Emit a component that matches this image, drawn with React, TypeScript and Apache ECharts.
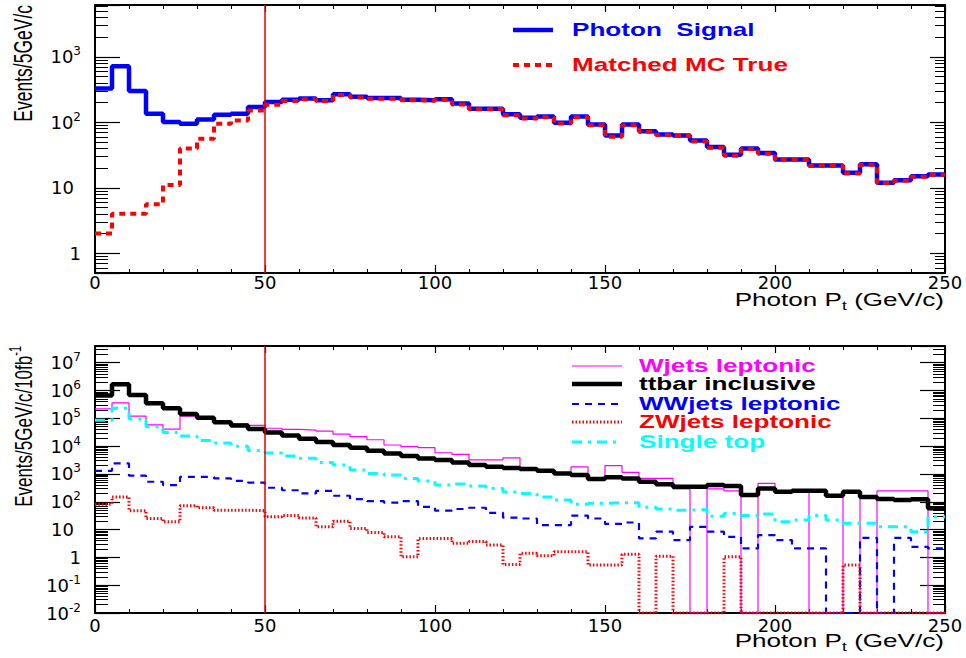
import React, { useEffect, useRef } from "react";
import * as echarts from "echarts";

// ---- data (5 GeV/c bins, low edges) ----
const binLowEdges = [
  0, 5, 10, 15, 20, 25, 30, 35, 40, 45, 50, 55, 60, 65, 70, 75, 80, 85, 90, 95,
  100, 105, 110, 115, 120, 125, 130, 135, 140, 145, 150, 155, 160, 165, 170, 175, 180, 185, 190, 195,
  200, 205, 210, 215, 220, 225, 230, 235, 240, 245,
];
const ptMax = 250;
const cutPt = 50;
const xTickLabels = [0, 50, 100, 150, 200, 250];

// top panel
const photonSignal = [
  330, 720, 300, 135, 101, 95, 111, 131, 135, 171,
  204, 222, 232, 218, 268, 245, 235, 235, 222, 218,
  225, 194, 162, 162, 133, 118, 123, 99, 123, 93,
  63, 93, 73, 65, 63, 53, 42, 32, 40, 34,
  27, 27, 22, 22, 17, 23, 12, 13, 15, 16,
];
const matchedMCTrue = [
  2, 4, 4, 5.6, 11, 40, 56, 95, 107, 152,
  185, 212, 225, 212, 262, 240, 230, 230, 218, 214,
  222, 188, 158, 160, 128, 115, 120, 96, 120, 90,
  60, 90, 72, 64, 62, 51, 41, 31, 39, 33,
  26.5, 26.5, 21.5, 21.5, 16.5, 22.5, 11.8, 12.8, 14.8, 15.8,
];

// bottom panel (events / 5 GeV/c / 10 fb^-1), 0 = empty bin
const wjetsLeptonic = [
  2.2e5, 3.6e5, 1.2e5, 5.8e4, 4.1e4, 1.2e5, 1.0e5, 8.0e4, 6.4e4, 5.6e4,
  4.4e4, 4.0e4, 3.8e4, 3.5e4, 2.7e4, 2.2e4, 1.7e4, 1.1e4, 9.6e3, 8.8e3,
  5.8e3, 5.1e3, 3.2e3, 3.2e3, 3.8e3, 1.45e3, 1.25e3, 1.0e3, 1.8e3, 640,
  2.0e3, 1.15e3, 690, 690, 290, 0, 290, 245, 0, 460,
  245, 245, 0, 0, 220, 0, 245, 245, 245, 0,
];
const ttbarInclusive = [
  6.6e5, 1.7e6, 6.9e5, 3.5e5, 2.3e5, 1.44e5, 1.05e5, 7.2e4, 5.5e4, 4.1e4,
  3.1e4, 2.4e4, 1.85e4, 1.4e4, 1.1e4, 8.8e3, 6.9e3, 5.5e3, 4.4e3, 3.6e3,
  3.2e3, 2.6e3, 2.1e3, 1.8e3, 1.65e3, 1.5e3, 1.3e3, 1.05e3, 920, 660,
  760, 690, 525, 425, 350, 350, 400, 370, 175, 300,
  230, 250, 250, 165, 230, 150, 125, 115, 122, 58,
];
const wwjetsLeptonic = [
  1.3e3, 2.4e3, 870, 525, 400, 780, 780, 690, 560, 490,
  320, 260, 200, 245, 165, 125, 106, 93, 106, 66,
  48, 55, 61, 40, 27, 25, 14.5, 14.5, 32, 25,
  16, 18, 4.8, 8.4, 4.2, 12.6, 8.4, 5.5, 2.1, 6.3,
  4.2, 2.1, 2.1, 0, 0, 5.0, 0, 5.0, 2.4, 2.1,
];
const zwjetsLeptonic = [
  81, 150, 48, 25, 19, 72, 61, 50, 50, 48,
  29, 32, 26, 12.6, 20, 11, 7.9, 5.5, 1.05, 4.8,
  4.8, 3.2, 3.7, 2.8, 0.55, 1.4, 1.15, 1.6, 1.6, 0.53,
  0.53, 1.3, 0, 1.1, 0, 0, 0, 1.05, 0, 0,
  0, 0, 0, 0, 0.53, 0, 0, 0, 0, 0,
];
const singleTop = [
  8.5e4, 2.3e5, 9.5e4, 5.0e4, 3.1e4, 2.3e4, 1.6e4, 1.3e4, 1.0e4, 7.0e3,
  5.7e3, 4.4e3, 3.7e3, 2.6e3, 2.1e3, 1.4e3, 1.05e3, 910, 690, 560,
  400, 435, 370, 300, 225, 200, 150, 115, 81, 88,
  93, 93, 63, 55, 50, 53, 30, 38, 32, 36,
  19, 22, 32, 22, 17, 17, 12.6, 12.6, 8.4, 29,
];

const topYRange = [0.5, 6200];
const bottomYRange = [0.01, 4e7];

const topLegend = [
  { name: "Photon  Signal", color: "#0000ff" },
  { name: "Matched MC True", color: "#ff0000" },
];
const bottomLegend = [
  { name: "Wjets leptonic", color: "#ff00ff" },
  { name: "ttbar inclusive", color: "#000000" },
  { name: "WWjets leptonic", color: "#0000ff" },
  { name: "ZWjets leptonic", color: "#ff0000" },
  { name: "Single top", color: "#00ffff" },
];

// ---- styles ----
const LABEL_FONT = "DejaVu Sans";
const TEXT_FONT = "Liberation Sans";
const STRETCH = 1.45;

const lineStyles: Record<string, any> = {
  "Photon  Signal": { color: "#0000ff", width: 4.5, type: "solid" },
  "Matched MC True": { color: "#ff0000", width: 4, type: [6, 5] },
  "Wjets leptonic": { color: "#ff00ff", width: 1.2, type: "solid" },
  "ttbar inclusive": { color: "#000000", width: 4.5, type: "solid" },
  "WWjets leptonic": { color: "#0000ff", width: 2.2, type: [7, 6] },
  "ZWjets leptonic": { color: "#ff0000", width: 3, type: [1.5, 2] },
  "Single top": { color: "#00ffff", width: 3, type: [10, 6, 3, 6] },
};

function stepData(values: number[], floor: number) {
  const pts = values.map((v, i) => [binLowEdges[i], v > 0 ? v : floor]);
  const last = values[values.length - 1];
  pts.push([ptMax, last > 0 ? last : floor]);
  return pts;
}

function logLabel(v: number) {
  const n = Math.log10(v);
  const r = Math.round(n);
  if (Math.abs(n - r) > 1e-6) return "";
  if (r === 0) return "{b|1}";
  if (r === 1) return "{b|10}{p| }";
  return `{b|10}{s|${r}}`;
}

const labelRich = {
  b: { fontFamily: LABEL_FONT, fontSize: 18, color: "#000" },
  s: { fontFamily: LABEL_FONT, fontSize: 12, color: "#000", padding: [0, 0, 11, 0] },
  p: { width: 7 },
};

function xAxes(gridIndex: number, labelMargin: number) {
  const common = {
    gridIndex,
    type: "value",
    min: 0,
    max: ptMax,
    interval: 50,
    splitLine: { show: false },
    axisLine: { show: true, onZero: false, lineStyle: { color: "#000", width: 2 } },
    minorSplitLine: { show: false },
  };
  return [
    {
      ...common,
      position: "bottom",
      axisTick: { show: true, inside: true, length: 8, lineStyle: { color: "#000", width: 1.2 } },
      minorTick: { show: true, splitNumber: 5, length: 4, lineStyle: { color: "#000", width: 1 } },
      axisLabel: {
        show: true,
        margin: labelMargin,
        fontFamily: LABEL_FONT,
        fontSize: 18,
        color: "#000",
      },
    },
    {
      ...common,
      position: "top",
      axisTick: { show: true, inside: true, length: 7, lineStyle: { color: "#000", width: 1.2 } },
      minorTick: { show: true, splitNumber: 5, length: 4, lineStyle: { color: "#000", width: 1 } },
      axisLabel: { show: false },
    },
  ];
}

function yAxes(gridIndex: number, range: number[], rightMajor: number, rightMinor: number) {
  const common = {
    gridIndex,
    type: "log",
    logBase: 10,
    min: range[0],
    max: range[1],
    splitNumber: 10,
    splitLine: { show: false },
    axisLine: { show: true, onZero: false, lineStyle: { color: "#000", width: 2 } },
  };
  return [
    {
      ...common,
      position: "left",
      axisTick: { show: true, inside: true, length: 25, lineStyle: { color: "#000", width: 1.2 } },
      minorTick: { show: true, splitNumber: 9, length: 13, lineStyle: { color: "#000", width: 1 } },
      axisLabel: {
        show: true,
        margin: 14,
        formatter: logLabel,
        rich: labelRich,
        showMinLabel: true,
        showMaxLabel: true,
      },
    },
    {
      ...common,
      position: "right",
      axisTick: { show: true, inside: true, length: rightMajor, lineStyle: { color: "#000", width: 1.2 } },
      minorTick: { show: true, splitNumber: 9, length: rightMinor, lineStyle: { color: "#000", width: 1 } },
      axisLabel: { show: false },
    },
  ];
}

function histSeries(name: string, values: number[], floor: number, axisIdx: number, extra: any = {}) {
  return {
    name,
    type: "line",
    step: "end",
    xAxisIndex: axisIdx,
    yAxisIndex: axisIdx,
    data: stepData(values, floor),
    showSymbol: false,
    symbol: "none",
    clip: true,
    lineStyle: { ...lineStyles[name] },
    silent: true,
    ...extra,
  };
}

const cutLine = {
  symbol: "none",
  silent: true,
  label: { show: false },
  lineStyle: { color: "#e00000", width: 1.5, type: "solid" },
  data: [{ xAxis: cutPt }],
};

function legendGraphics(items: { name: string; color: string }[], x1: number, x2: number, tx: number, ys: number[]) {
  const els: any[] = [];
  items.forEach((it, i) => {
    const ls = lineStyles[it.name];
    els.push({
      type: "line",
      shape: { x1, y1: ys[i], x2, y2: ys[i] },
      style: {
        stroke: ls.color,
        lineWidth: ls.width,
        lineDash: Array.isArray(ls.type) ? ls.type : null,
      },
    });
    els.push({
      type: "text",
      x: tx,
      y: ys[i],
      scaleX: STRETCH,
      style: {
        text: it.name,
        fill: it.color,
        fontFamily: TEXT_FONT,
        fontWeight: "bold",
        fontSize: 18,
        align: "left",
        verticalAlign: "middle",
        textAlign: "left",
        textVerticalAlign: "middle",
      },
    });
  });
  return els;
}

function xTitle(y: number) {
  return {
    type: "text",
    x: 944,
    y,
    scaleX: STRETCH,
    style: {
      text: "{a|Photon P}{s|t}{a| (GeV/c)}",
      rich: {
        a: { fontFamily: TEXT_FONT, fontSize: 18, fill: "#000", color: "#000" },
        s: { fontFamily: TEXT_FONT, fontSize: 12, fill: "#000", color: "#000", padding: [11, 0, 0, 0] },
      },
      align: "right",
      verticalAlign: "middle",
      textAlign: "right",
      textVerticalAlign: "middle",
    },
  };
}

function yTitle(y: number, main: string, sup: string | null, size: number) {
  const text = sup ? `{a|${main}}{s|${sup}}` : `{a|${main}}`;
  return {
    type: "text",
    x: 23,
    y,
    rotation: Math.PI / 2,
    scaleY: STRETCH,
    style: {
      text,
      rich: {
        a: { fontFamily: TEXT_FONT, fontSize: size, fill: "#000", color: "#000" },
        s: { fontFamily: TEXT_FONT, fontSize: 11, fill: "#000", color: "#000", padding: [0, 0, 10, 0] },
      },
      align: "right",
      verticalAlign: "middle",
      textAlign: "right",
      textVerticalAlign: "middle",
    },
  };
}

export default function App() {
  const ref = useRef<HTMLDivElement>(null);

  useEffect(() => {
    if (!ref.current) return;
    const chart = echarts.init(ref.current, null, { renderer: "svg" });
    const botFloor = bottomYRange[0];
    const option: any = {
      animation: false,
      backgroundColor: "#ffffff",
      grid: [
        { left: 95, top: 5, width: 850, height: 268, containLabel: false },
        { left: 95, top: 346, width: 850, height: 267, containLabel: false },
      ],
      xAxis: [...xAxes(0, 0), ...xAxes(1, 3)],
      yAxis: [...yAxes(0, topYRange, 15, 10), ...yAxes(1, bottomYRange, 25, 12)],
      series: [
        histSeries("Photon  Signal", photonSignal, topYRange[0], 0, { markLine: cutLine }),
        histSeries("Matched MC True", matchedMCTrue, topYRange[0], 0),
        histSeries("Wjets leptonic", wjetsLeptonic, botFloor, 2, { markLine: cutLine }),
        histSeries("ttbar inclusive", ttbarInclusive, botFloor, 2),
        histSeries("WWjets leptonic", wwjetsLeptonic, botFloor, 2),
        histSeries("ZWjets leptonic", zwjetsLeptonic, botFloor, 2),
        histSeries("Single top", singleTop, botFloor, 2),
      ],
      graphic: {
        elements: [
          ...legendGraphics(topLegend, 513, 553, 572, [30, 65]),
          ...legendGraphics(bottomLegend, 572, 622, 639, [366, 384, 404, 422, 442]),
          xTitle(300),
          xTitle(641),
          yTitle(5, "Events/5GeV/c", null, 17.5),
          yTitle(346, "Events/5GeV/c/10fb", "-1", 17),
        ],
      },
    };
    // axis index mapping: x/y axes 0,1 -> top grid; 2,3 -> bottom grid
    chart.setOption(option);
    return () => chart.dispose();
  }, []);

  return (
    <div
      ref={ref}
      style={{ position: "absolute", left: 0, top: 0, width: 966, height: 658, background: "#fff" }}
    />
  );
}
